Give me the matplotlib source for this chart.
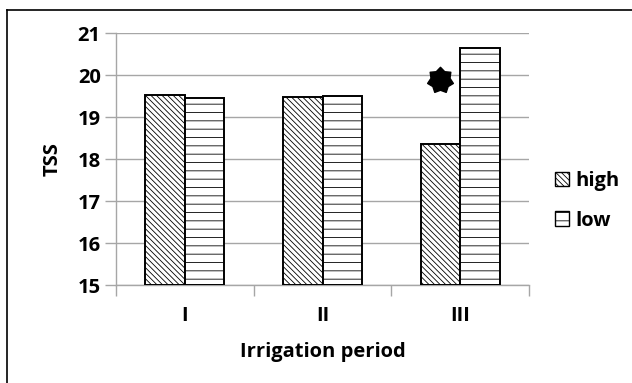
import numpy as np
import matplotlib
matplotlib.use("Agg")
from matplotlib import pyplot as plt
from matplotlib.lines import Line2D
from matplotlib.path import Path

periods = ["I", "II", "III"]
tss_high = [19.52, 19.48, 18.36]
tss_low = [19.46, 19.49, 20.64]
star_y = 19.88  # significance mark over period III

plt.rcParams['font.family'] = ['Open Sans', 'DejaVu Sans']
plt.rcParams['font.weight'] = 'bold'
plt.rcParams['hatch.linewidth'] = 0.6

grid_col = '#a6a6a6'
fs = 14.5

# 7 pointed seal shape for the star mark
ang = np.pi / 2 + np.arange(14) * np.pi / 7
rad = np.where(np.arange(14) % 2 == 0, 1.0, 0.74)
verts = np.column_stack([rad * np.cos(ang), rad * np.sin(ang)])
verts = np.vstack([verts, verts[:1]])
seal = Path(verts, [Path.MOVETO] + [Path.LINETO] * 13 + [Path.CLOSEPOLY])

fig = plt.figure(figsize=(6.32, 3.83), dpi=100)
ax = fig.add_axes([116 / 632, 1 - 285 / 383, (529 - 116) / 632, (285 - 33) / 383])

x = np.arange(len(periods))
w = 0.287
b1 = ax.bar(x - w / 2, np.array(tss_high) - 15, w, bottom=15, color='white',
            edgecolor='black', hatch='\\' * 6, linewidth=1.4, label='high', zorder=3)
b2 = ax.bar(x + w / 2, np.array(tss_low) - 15, w, bottom=15, color='white',
            edgecolor='black', hatch='--', linewidth=1.4, label='low', zorder=3)

ax.plot(x[2] - w / 2, star_y, marker=seal, markersize=19, color='black',
        linestyle='none', zorder=4)

ax.set_xlim(-0.5, 2.5)
ax.set_ylim(15, 21)
ax.set_yticks(range(15, 22))
ax.yaxis.grid(True, color=grid_col, linewidth=1)
ax.set_axisbelow(True)

ax.set_xticks(x)
ax.set_xticklabels(periods, fontsize=fs, fontweight='bold')
ax.set_xticks([-0.5, 0.5, 1.5, 2.5], minor=True)
ax.tick_params(axis='x', which='major', length=0, pad=15)
ax.tick_params(axis='x', which='minor', length=8, color=grid_col, width=1, direction='out')
ax.tick_params(axis='y', length=8, color=grid_col, width=1, pad=3, labelsize=fs)
for lab in ax.get_yticklabels():
    lab.set_fontweight('bold')

for s in ['top', 'right']:
    ax.spines[s].set_visible(False)
for s in ['left', 'bottom']:
    ax.spines[s].set_color(grid_col)
    ax.spines[s].set_linewidth(1)

ax.set_xlabel('Irrigation period', fontsize=fs, fontweight='bold', labelpad=12)
ax.set_ylabel('TSS', fontsize=fs, fontweight='bold', labelpad=11)

leg = fig.legend(handles=[b1, b2], loc='center left', bbox_to_anchor=(537 / 632, 1 - 201 / 383),
                 frameon=False, fontsize=fs, handlelength=0.7, handleheight=0.7,
                 handletextpad=0.3, labelspacing=0.95)
for t in leg.get_texts():
    t.set_fontweight('bold')
for p in leg.get_patches():
    p.set_linewidth(1.0)

# outer frame
fig.add_artist(Line2D([7 / 632, 7 / 632], [0, 1 - 10 / 383], transform=fig.transFigure,
                      color='black', linewidth=1.2))
fig.add_artist(Line2D([7 / 632, 1], [1 - 10 / 383, 1 - 10 / 383], transform=fig.transFigure,
                      color='black', linewidth=1.2))

fig.savefig('out.png', dpi=100)
